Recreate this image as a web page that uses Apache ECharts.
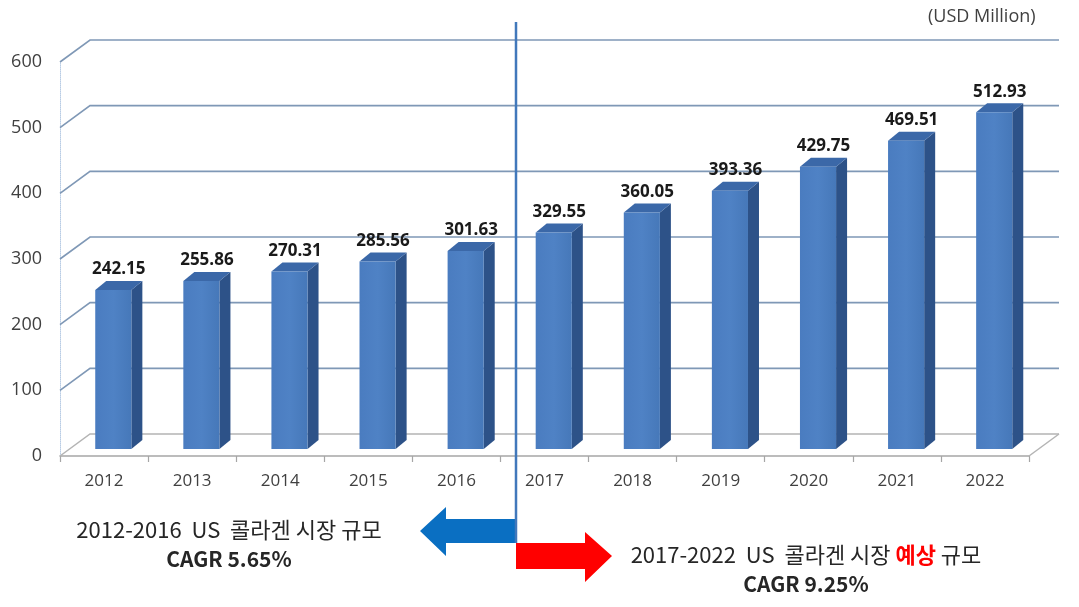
<!DOCTYPE html>
<html>
<head>
<meta charset="utf-8">
<script src="https://cdn.jsdelivr.net/npm/echarts@6/dist/echarts.min.js"></script>
<style>
html,body{margin:0;padding:0;background:#fff;}
#chart{width:1079px;height:607px;}
</style>
</head>
<body>
<div id="chart"></div>
<script>
const categories = ['2012','2013','2014','2015','2016','2017','2018','2019','2020','2021','2022'];
const values = [242.15, 255.86, 270.31, 285.56, 301.63, 329.55, 360.05, 393.36, 429.75, 469.51, 512.93];
const yTicks = [0, 100, 200, 300, 400, 500, 600];
const unitLabel = '(USD Million)';
const leftTitle = '2012-2016  US  콜라겐 시장 규모';
const leftCagr = 'CAGR 5.65%';
const rightTitleA = '2017-2022  US  콜라겐 시장 ';
const rightTitleRed = '예상';
const rightTitleB = ' 규모';
const rightCagr = 'CAGR 9.25%';

const FONT = '"Open Sans", "Noto Sans CJK KR", sans-serif';
const KFONT = '"Noto Sans CJK KR", "Open Sans", sans-serif';
const DEPTH_X = 30, DEPTH_Y = 22;

const chart = echarts.init(document.getElementById('chart'), null, {renderer: 'canvas'});

const option = {
  backgroundColor: '#ffffff',
  animation: false,
  grid: {left: 60, right: 50, top: 62, bottom: 151},
  xAxis: {
    type: 'category',
    data: categories,
    boundaryGap: true,
    axisLine: {show: true, lineStyle: {color: '#a6a6a6', width: 1.5}},
    axisTick: {show: true, length: 6, lineStyle: {color: '#a6a6a6', width: 1.2}},
    axisLabel: {color: '#404040', fontSize: 17, fontFamily: FONT, margin: 17},
    splitLine: {show: false}
  },
  yAxis: {
    type: 'value',
    min: 0, max: 600, interval: 100,
    axisLine: {show: true, lineStyle: {color: '#b8cce4', width: 1, type: 'dotted'}},
    axisTick: {show: false},
    axisLabel: {color: '#404040', fontSize: 18, fontFamily: FONT, margin: 18},
    splitLine: {show: false}
  },
  series: [
    {
      type: 'custom',
      name: 'walls',
      z: 1,
      silent: true,
      clip: false,
      encode: {x: 0, y: 1},
      data: yTicks.map(v => [0, v]),
      renderItem: function (params, api) {
        const cs = params.coordSys;
        const y = api.coord([0, api.value(1)])[1];
        const x0 = cs.x, x1 = cs.x + cs.width;
        const isFloor = api.value(1) === 0;
        const col = isFloor ? '#b4b4b4' : '#7f98b6';
        const children = [
          {type: 'polyline', shape: {points: [[x0, y], [x0 + DEPTH_X, y - DEPTH_Y], [x1 + DEPTH_X, y - DEPTH_Y]]},
           style: {stroke: col, lineWidth: isFloor ? 1.5 : 1.6, fill: null}}
        ];
        if (isFloor) {
          children.push({type: 'line', shape: {x1: x1, y1: y, x2: x1 + DEPTH_X, y2: y - DEPTH_Y},
            style: {stroke: col, lineWidth: 1.5}});
        }
        return {type: 'group', children: children};
      }
    },
    {
      type: 'custom',
      name: 'bars',
      z: 3,
      clip: false,
      encode: {x: 0, y: 1},
      data: values.map((v, i) => [i, v]),
      renderItem: function (params, api) {
        const i = api.value(0), v = api.value(1);
        const base = api.coord([i, 0]);
        const top = api.coord([i, v]);
        const band = api.size([1, 0])[0];
        const w = band * 0.41;
        const shiftX = band * -0.1, shiftY = 7;
        const dx = 11, dy = 9;
        const left = base[0] + shiftX;
        const right = left + w;
        const yb = base[1] - shiftY;
        const yt = top[1] - shiftY;
        return {
          type: 'group',
          children: [
            {type: 'polygon', shape: {points: [[right, yb], [right + dx, yb - dy], [right + dx, yt - dy], [right, yt]]},
             style: {fill: '#2d5288'}},
            {type: 'polygon', shape: {points: [[left, yt], [left + dx, yt - dy], [right + dx, yt - dy], [right, yt]]},
             style: {fill: '#3b68a8'}},
            {type: 'rect', shape: {x: left, y: yt, width: w, height: yb - yt},
             style: {fill: new echarts.graphic.LinearGradient(0, 0, 1, 0, [
               {offset: 0, color: '#4a7cc0'}, {offset: 0.5, color: '#4f82c5'}, {offset: 1, color: '#4678b9'}])}},
            {type: 'text', style: {
              text: v.toFixed(2), x: left + (w + dx) / 2, y: yt - dy - 3,
              align: 'center', verticalAlign: 'bottom',
              fill: '#1a1a1a', fontSize: 17, fontWeight: 'bold', fontFamily: FONT}}
          ]
        };
      }
    }
  ],
  graphic: [
    {type: 'text', left: 928, top: 8, z: 10,
     style: {text: unitLabel, fill: '#404040', fontSize: 18, fontFamily: FONT}},
    {type: 'line', z: 10, shape: {x1: 516, y1: 22, x2: 516, y2: 543},
     style: {stroke: '#4178bb', lineWidth: 2.5}},
    {type: 'polygon', z: 9, shape: {points: [[420, 531], [446, 507], [446, 519], [516, 519], [516, 543], [446, 543], [446, 556]]},
     style: {fill: '#0a6fc2'}},
    {type: 'polygon', z: 9, shape: {points: [[516, 543], [585, 543], [585, 532], [612, 556], [585, 582], [585, 569], [516, 569]]},
     style: {fill: '#ff0000'}},
    {type: 'text', z: 10, x: 229, y: 530,
     style: {text: leftTitle, fill: '#262626', fontSize: 22, fontFamily: KFONT, align: 'center', verticalAlign: 'middle'}},
    {type: 'text', z: 10, x: 229, y: 559,
     style: {text: leftCagr, fill: '#262626', fontSize: 21, fontWeight: 'bold', fontFamily: KFONT, align: 'center', verticalAlign: 'middle'}},
    {type: 'text', z: 10, x: 806, y: 555,
     style: {text: '{a|' + rightTitleA + '}{r|' + rightTitleRed + '}{a|' + rightTitleB + '}',
       align: 'center', verticalAlign: 'middle',
       rich: {
         a: {fill: '#262626', fontSize: 22, fontFamily: KFONT},
         r: {fill: '#ff0000', fontSize: 22, fontWeight: 'bold', fontFamily: KFONT}
       }}},
    {type: 'text', z: 10, x: 806, y: 584,
     style: {text: rightCagr, fill: '#262626', fontSize: 21, fontWeight: 'bold', fontFamily: KFONT, align: 'center', verticalAlign: 'middle'}}
  ]
};
chart.setOption(option);
</script>
</body>
</html>
